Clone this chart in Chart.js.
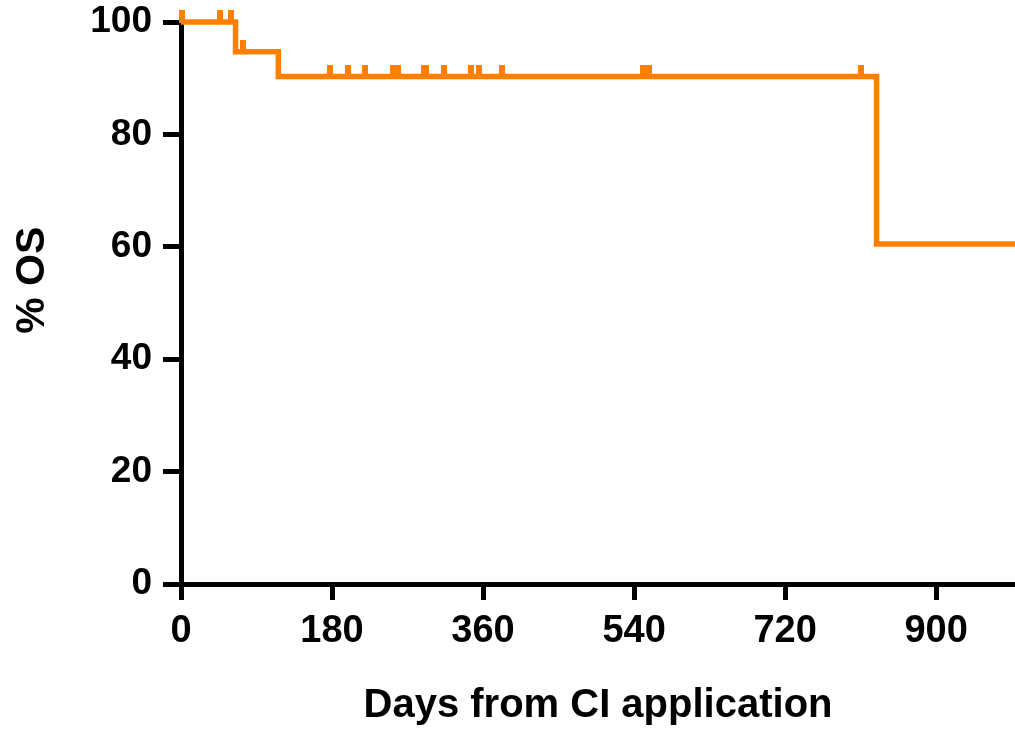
<!DOCTYPE html>
<html>
<head>
<meta charset="utf-8">
<script src="https://cdn.jsdelivr.net/npm/chart.js@4/dist/chart.umd.min.js"></script>
<style>
  html, body { margin: 0; padding: 0; background: #ffffff; }
  #wrap { width: 1015px; height: 730px; }
</style>
</head>
<body>
<div id="wrap"><canvas id="c" width="1015" height="730"></canvas></div>
<script>
// Kaplan-Meier step points (days, % OS)
const stepDays = [0, 65, 116, 829, 994];
const stepSurvival = [100, 94.7, 90.3, 60.5, 60.5];

// Censored observations (days, % OS at that time)
const censorDays = [1, 46, 60, 74, 178, 199, 219, 253, 259, 290, 292, 313, 346, 355, 382, 551, 558, 811];
const censorSurvival = [100, 100, 100, 94.7, 90.3, 90.3, 90.3, 90.3, 90.3, 90.3, 90.3, 90.3, 90.3, 90.3, 90.3, 90.3, 90.3, 90.3];

// Tick labels
const xTicks = [0, 180, 360, 540, 720, 900];
const yTicks = [0, 20, 40, 60, 80, 100];

const xTitle = 'Days from CI application';
const yTitle = '% OS';

const ORANGE = '#FF8000';
const FONT = '"Liberation Sans", Arial, Helvetica, sans-serif';

// censor tick glyph: vertical bar rising above the point
function makeCensorGlyph() {
  const cv = document.createElement('canvas');
  cv.width = 6; cv.height = 24;
  const g = cv.getContext('2d');
  g.fillStyle = ORANGE;
  g.fillRect(0, 0, 6, 13);
  return cv;
}
const censorGlyph = makeCensorGlyph();

const curve = stepDays.map((d, i) => ({ x: d, y: stepSurvival[i] }));
const censors = censorDays.map((d, i) => ({ x: d, y: censorSurvival[i] }));

new Chart(document.getElementById('c'), {
  type: 'scatter',
  data: {
    datasets: [
      {
        type: 'line',
        data: curve,
        stepped: 'before',
        borderColor: ORANGE,
        borderWidth: 5.5,
        pointRadius: 0,
        fill: false,
        clip: false,
        order: 2
      },
      {
        type: 'scatter',
        data: censors,
        pointStyle: censorGlyph,
        pointRadius: 6,
        clip: false,
        order: 1
      }
    ]
  },
  options: {
    responsive: false,
    animation: false,
    events: [],
    layout: { autoPadding: false, padding: 0 },
    plugins: { legend: { display: false }, tooltip: { enabled: false } },
    scales: {
      x: {
        type: 'linear',
        min: 0,
        max: 994,
        afterBuildTicks: (s) => { s.ticks = xTicks.map(v => ({ value: v })); },
        afterFit: (s) => { s.height = 146; s.paddingLeft = 0; s.paddingRight = 0; },
        grid: { drawOnChartArea: false, drawTicks: true, tickLength: 16, tickWidth: 5, tickColor: '#000' },
        border: { display: true, color: '#000', width: 5 },
        ticks: {
          color: '#000',
          padding: 9,
          maxRotation: 0,
          autoSkip: false,
          font: { family: FONT, size: 38, weight: 'bold' }
        },
        title: {
          display: true,
          text: xTitle,
          color: '#000',
          padding: { top: 0, bottom: 0 },
          font: { family: FONT, size: 40, weight: 'bold', lineHeight: 1.2 }
        }
      },
      y: {
        type: 'linear',
        min: 0,
        max: 100,
        afterBuildTicks: (s) => { s.ticks = yTicks.map(v => ({ value: v })); },
        afterFit: (s) => { s.width = 181; s.paddingTop = 22; s.paddingBottom = 0; },
        grid: { drawOnChartArea: false, drawTicks: true, tickLength: 18, tickWidth: 5, tickColor: '#000' },
        border: { display: true, color: '#000', width: 5 },
        ticks: {
          color: '#000',
          padding: 11,
          autoSkip: false,
          font: { family: FONT, size: 37, weight: 'bold' }
        },
        title: {
          display: true,
          text: '    ' + yTitle,
          color: '#000',
          padding: { top: 8, bottom: 0 },
          font: { family: FONT, size: 41, weight: 'bold', lineHeight: 1.2 }
        }
      }
    }
  }
});
</script>
</body>
</html>
